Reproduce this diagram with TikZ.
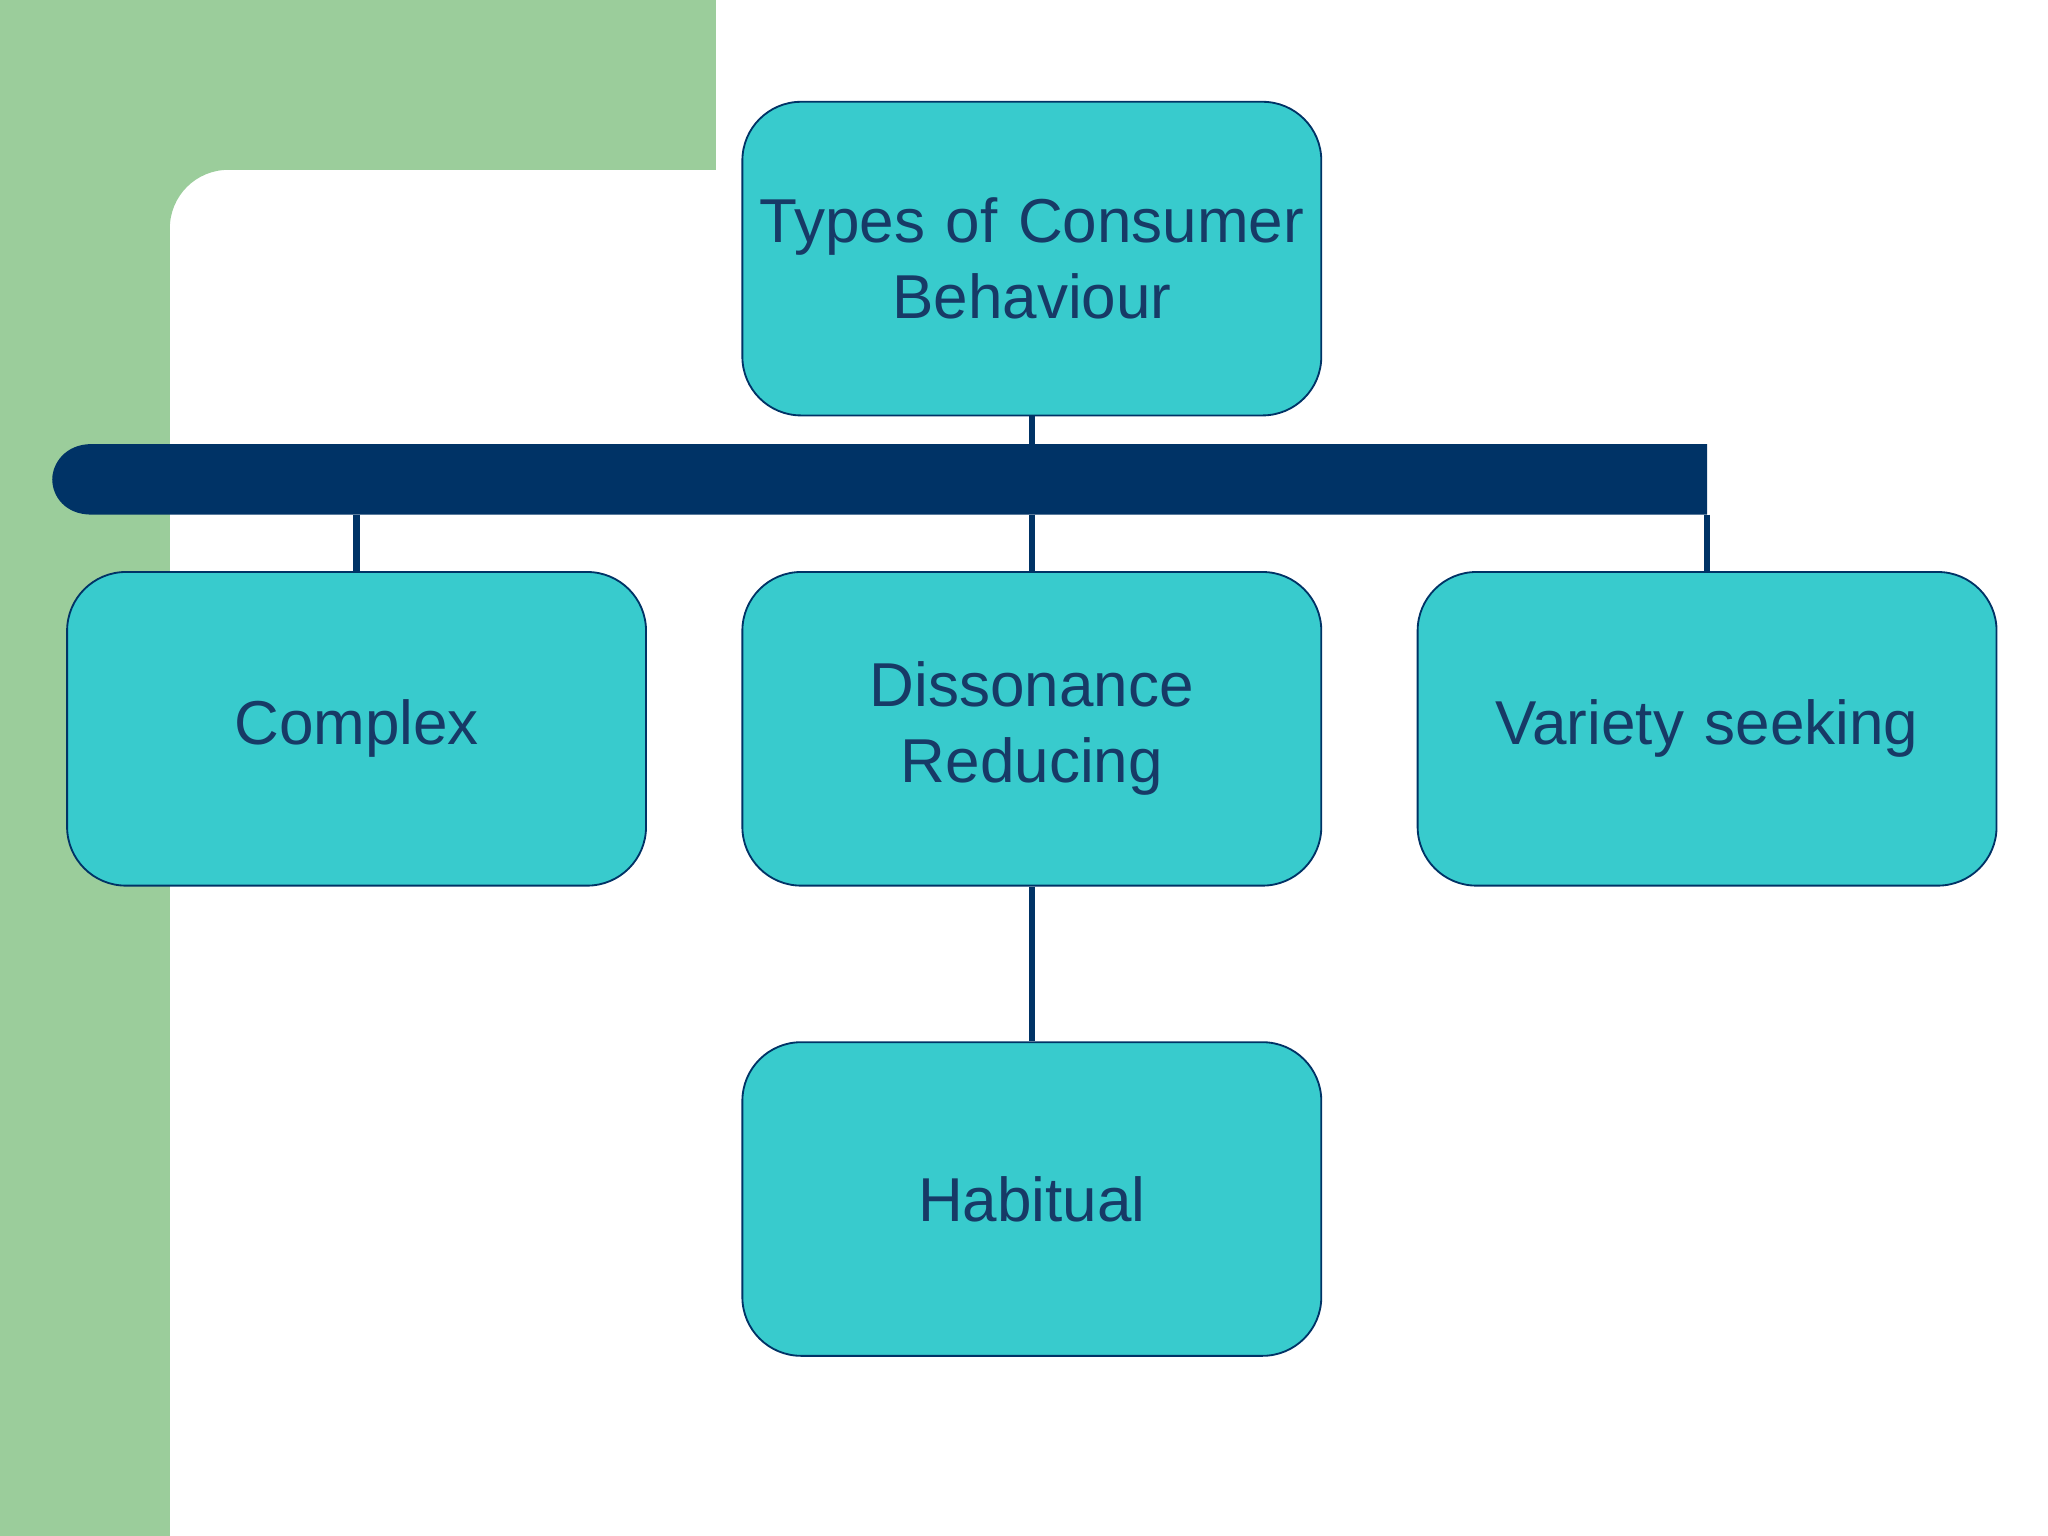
\documentclass[tikz,border=0pt]{standalone}
\usepackage{fontspec}
\setmainfont{Liberation Sans}
\definecolor{bg}{HTML}{9BCD9B}
\definecolor{boxf}{HTML}{38CBCD}
\definecolor{navy}{HTML}{003366}
\definecolor{txt}{HTML}{173A66}
\begin{document}
\begin{tikzpicture}[x=0.01cm,y=-0.01cm,
  box/.style={draw=navy,fill=boxf,rounded corners=0.45cm,minimum width=4.43cm,minimum height=2.4cm,inner sep=0pt,align=center,text=txt,font=\fontsize{13.5pt}{16.5pt}\selectfont,text width=4.4cm},
  con/.style={draw=navy,line width=1.4pt}]
\useasboundingbox (0,0) rectangle (1568,1176);
\fill[white] (0,0) rectangle (1568,1176);
\fill[bg] (0,0) -- (548,0) -- (548,130) -- (175,130) .. controls (150,130) and (130,150) .. (130,175) -- (130,1176) -- (0,1176) -- cycle;
\node[box] (top) at (790,198) {Types of Consumer\\Behaviour};
\node[box] (c) at (273,558) {Complex};
\node[box] (d) at (790,558) {Dissonance\\Reducing};
\node[box] (v) at (1307,558) {Variety seeking};
\node[box] (h) at (790,918) {Habitual};
\fill[navy] (1307,340) -- (70,340) .. controls (50,340) and (40,355) .. (40,367) .. controls (40,380) and (50,394) .. (70,394) -- (1307,394) -- cycle;
\coordinate (b1) at (790,340);
\coordinate (b2) at (273,394);
\coordinate (b3) at (790,394);
\coordinate (b4) at (1307,394);
\draw[con] (top.south) -- (b1);
\draw[con] (b2) -- (c.north);
\draw[con] (b3) -- (d.north);
\draw[con] (b4) -- (v.north);
\draw[con] (d.south) -- (h.north);
\end{tikzpicture}
\end{document}
